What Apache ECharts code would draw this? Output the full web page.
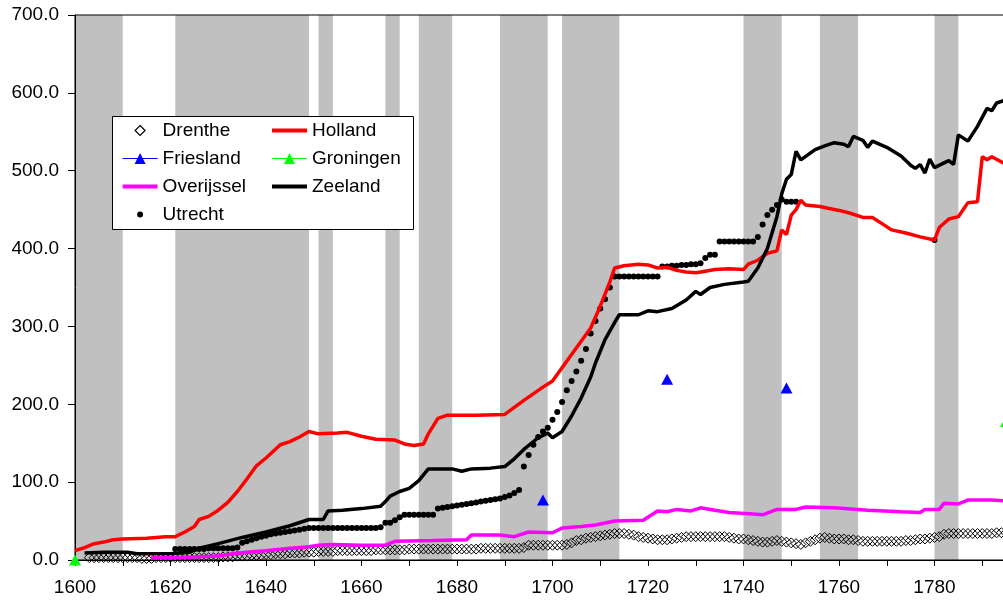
<!DOCTYPE html>
<html>
<head>
<meta charset="utf-8">
<script src="https://cdn.jsdelivr.net/npm/echarts@6/dist/echarts.min.js"></script>
<style>
  html, body { margin: 0; padding: 0; background: #fff; }
  #chart { width: 1003px; height: 600px; }
</style>
</head>
<body>
<div id="chart"></div>
<script>
// grey bands: war years [from, to]
const warPeriods = [[1600, 1610], [1621, 1649], [1651, 1654], [1665, 1668], [1672, 1679],
  [1689, 1699], [1702, 1714], [1740, 1748], [1756, 1764], [1780, 1785]];

// Drenthe, one value per year from 1603
const drentheFirstYear = 1603;
const drenthe = [
  3, 3, 3, 3, 3, 3, 3,
  3, 3, 3, 3, 2, 2, 2, 3, 3, 3,
  3, 3, 3, 3, 3, 3, 3, 3, 3, 3,
  3, 4, 4, 4, 5, 5, 5, 6, 6, 6,
  7, 7, 8, 8, 8, 9, 9, 9, 10, 10,
  10, 11, 11, 11, 11, 12, 12, 12, 12, 12,
  12, 12, 12, 13, 13, 13, 13, 13, 13, 13,
  14, 14, 14, 14, 14, 14, 14, 14, 14, 14,
  14, 14, 14, 14, 14, 15, 15, 15, 15, 15,
  15, 15, 15, 15, 16, 19, 19, 19, 19, 19,
  19, 19, 19, 20, 22, 25, 26, 28, 29, 30,
  31, 32, 33, 34, 34, 34, 33, 32, 30, 29,
  28, 27, 26, 26, 26, 27, 28, 29, 30, 30,
  30, 30, 30, 30, 30, 30, 30, 29, 28, 27,
  27, 26, 25, 24, 23, 23, 24, 25, 24, 23,
  22, 21, 20, 22, 24, 26, 28, 29, 28, 27,
  27, 27, 26, 26, 25, 24, 24, 24, 24, 24,
  24, 24, 24, 24, 25, 25, 26, 27, 27, 28,
  29, 30, 33, 34, 34, 34, 34, 34, 34, 34,
  34, 34, 34, 35, 35, 35
];

// Utrecht, one value per year from 1621, plus a late observation
const utrechtFirstYear = 1621;
const utrecht = [
  14, 14, 14, 14, 14, 14, 14, 15, 15,
  15, 15, 15, 15, 16, 22, 24, 26, 28, 30,
  31, 33, 34, 35, 36, 37, 38, 39, 40, 41,
  41, 41, 41, 41, 41, 41, 41, 41, 41, 41,
  41, 41, 41, 41, 42, 48, 48, 51, 55, 58,
  58, 58, 58, 58, 58, 58, 66, 67, 68, 69,
  70, 71, 72, 73, 74, 75, 76, 77, 78, 79,
  81, 83, 86, 90, 120, 135, 148, 158, 165, 170,
  180, 190, 203, 218, 230, 242, 256, 271, 291, 307,
  323, 335, 350, 364, 364, 364, 364, 364, 364, 364,
  364, 364, 364, 377, 377, 378, 378, 379, 379, 380,
  380, 381, 388, 392, 392, 409, 409, 409, 409, 409,
  409, 409, 409, 415, 431, 443, 450, 456, 463, 460,
  460, 460
];
const utrechtLate = [[1780, 411]];

const friesland = [[1698, 77], [1724, 232], [1749, 221]];
const groningen = [[1600, 0], [1795, 178]];

const holland = [[1600, 12], [1602, 16], [1604, 21], [1606, 23], [1608, 26], [1610, 27], [1615, 28],
  [1619, 30], [1621, 30], [1623, 36], [1625, 43], [1626, 52], [1628, 56], [1630, 64], [1632, 74],
  [1634, 88], [1636, 104], [1638, 121], [1640, 131], [1643, 148], [1645, 152], [1647, 158],
  [1649, 165], [1651, 162], [1655, 163], [1657, 164], [1660, 159], [1663, 155], [1667, 154],
  [1669, 149], [1671, 147], [1673, 149], [1674, 162], [1676, 182], [1678, 186], [1684, 186],
  [1690, 187], [1694, 205], [1698, 222], [1700, 230], [1702, 247], [1704, 264], [1706, 281],
  [1708, 298], [1710, 326], [1712, 357], [1713, 375], [1715, 378], [1718, 380], [1720, 379],
  [1722, 375], [1724, 376], [1726, 372], [1728, 370], [1730, 369], [1732, 371], [1734, 373],
  [1737, 374], [1740, 373], [1741, 380], [1743, 385], [1745, 394], [1747, 397], [1748, 424],
  [1749, 418], [1750, 443], [1751, 450], [1752, 462], [1753, 456], [1756, 454], [1760, 449],
  [1762, 446], [1765, 440], [1767, 440], [1769, 432], [1771, 424], [1774, 420], [1777, 415],
  [1780, 411], [1781, 427], [1783, 438], [1785, 441], [1787, 459], [1789, 460], [1790, 518],
  [1791, 514], [1792, 518], [1795, 508]];

const overijssel = [[1616, 3], [1620, 3], [1625, 4], [1630, 5], [1633, 8], [1636, 10], [1640, 12],
  [1645, 15], [1649, 17], [1651, 19], [1654, 20], [1660, 19], [1665, 19], [1667, 24], [1675, 25],
  [1682, 26], [1683, 32], [1689, 32], [1692, 30], [1695, 36], [1700, 35], [1702, 41], [1706, 43],
  [1709, 45], [1713, 50], [1719, 51], [1722, 63], [1724, 62], [1726, 65], [1729, 63], [1731, 67],
  [1734, 64], [1737, 61], [1742, 59], [1744, 58], [1747, 65], [1751, 65], [1753, 68], [1759, 67],
  [1766, 64], [1773, 62], [1777, 61], [1778, 65], [1781, 65], [1782, 73], [1785, 72], [1787, 77],
  [1792, 77], [1795, 76]];

const zeeland = [[1602, 9], [1606, 10], [1611, 10], [1613, 8], [1620, 8], [1624, 10], [1626, 15],
  [1630, 21], [1635, 29], [1640, 36], [1645, 44], [1649, 52], [1652, 52], [1653, 63], [1656, 64],
  [1660, 66], [1664, 69], [1665, 75], [1666, 82], [1668, 88], [1670, 92], [1672, 102], [1674, 117],
  [1679, 117], [1681, 114], [1683, 117], [1687, 118], [1690, 120], [1692, 130], [1694, 142],
  [1697, 157], [1699, 163], [1700, 157], [1702, 165], [1704, 185], [1706, 208], [1708, 235],
  [1709, 253], [1711, 283], [1713, 305], [1714, 315], [1718, 315], [1720, 320], [1722, 319],
  [1725, 323], [1728, 334], [1730, 345], [1731, 341], [1733, 350], [1736, 354], [1740, 357],
  [1741, 358], [1743, 375], [1745, 400], [1747, 441], [1748, 470], [1749, 489], [1750, 495],
  [1751, 525], [1752, 514], [1755, 527], [1757, 532], [1759, 536], [1761, 534], [1762, 531],
  [1763, 544], [1765, 539], [1766, 530], [1767, 538], [1770, 530], [1773, 519], [1775, 507],
  [1776, 503], [1777, 508], [1778, 497], [1779, 515], [1780, 504], [1782, 510], [1783, 513],
  [1784, 508], [1785, 546], [1787, 538], [1789, 557], [1791, 580], [1792, 577], [1793, 587],
  [1795, 591]];

const FONT = '"Liberation Sans", Arial, sans-serif';

// legend icons, all drawn inside a 35x12 frame so they keep their size
const frame = 'path://M0,0M35,12';
const icons = {
  diamond: frame + 'M17.5,1L22.5,6L17.5,11L12.5,6Z',
  thick: frame + 'M0,4L35,4L35,8L0,8Z',
  triLine: frame + 'M0,5.5L35,5.5L35,6.5L0,6.5ZM17.5,0.5L23,11.5L12,11.5Z',
  dot: frame + 'M14.5,6A3,3,0,1,1,20.5,6A3,3,0,1,1,14.5,6Z'
};

const yearly = (first, values) => values.map((v, i) => [first + i, v]);

const chart = echarts.init(document.getElementById('chart'));

const legendBase = {
  orient: 'vertical',
  top: 121,
  padding: 0,
  itemWidth: 35,
  itemHeight: 12,
  itemGap: 9,
  selectedMode: false,
  z: 20,
  textStyle: { fontSize: 19, color: '#000', fontFamily: FONT }
};

chart.setOption({
  animation: false,
  backgroundColor: '#fff',
  grid: {
    left: 75, top: 15, bottom: 40, right: -27,
    show: true, borderColor: '#000', borderWidth: 1, z: 3,
    outerBoundsMode: 'none'
  },
  xAxis: {
    type: 'value',
    min: 1600, max: 1800, interval: 10,
    z: 3,
    axisLine: { show: true, lineStyle: { color: '#000', width: 1 } },
    axisTick: { show: true, inside: false, length: 6, lineStyle: { color: '#000' } },
    axisLabel: {
      margin: 18, fontSize: 19, color: '#000', fontFamily: FONT,
      formatter: (v) => (v % 20 === 0 ? String(v) : '')
    },
    splitLine: { show: false }
  },
  yAxis: {
    type: 'value',
    min: 0, max: 700, interval: 100,
    z: 3,
    axisLine: { show: true, lineStyle: { color: '#000', width: 1 } },
    axisTick: { show: true, inside: false, length: 7, lineStyle: { color: '#000' } },
    axisLabel: {
      margin: 16, fontSize: 19, color: '#000', fontFamily: FONT,
      formatter: (v) => v.toFixed(1)
    },
    splitLine: { show: false }
  },
  graphic: [{
    type: 'rect', left: 112, top: 116, z: 15,
    shape: { width: 301, height: 113 },
    style: { fill: '#fff', stroke: '#000', lineWidth: 1 }
  }],
  legend: [
    Object.assign({}, legendBase, {
      left: 122,
      data: [
        { name: 'Drenthe', icon: icons.diamond, itemStyle: { color: 'rgba(0,0,0,0)', borderColor: '#000', borderWidth: 1.2, opacity: 1 } },
        { name: 'Friesland', icon: icons.triLine, itemStyle: { color: '#0000FF', borderWidth: 0, opacity: 1 } },
        { name: 'Overijssel', icon: icons.thick, itemStyle: { color: '#FF00FF', borderWidth: 0, opacity: 1 } },
        { name: 'Utrecht', icon: icons.dot, itemStyle: { color: '#000', borderWidth: 0, opacity: 1 } }
      ]
    }),
    Object.assign({}, legendBase, {
      left: 272,
      data: [
        { name: 'Holland', icon: icons.thick, itemStyle: { color: '#FF0000', borderWidth: 0, opacity: 1 } },
        { name: 'Groningen', icon: icons.triLine, itemStyle: { color: '#00FF00', borderWidth: 0, opacity: 1 } },
        { name: 'Zeeland', icon: icons.thick, itemStyle: { color: '#000', borderWidth: 0, opacity: 1 } }
      ]
    })
  ],
  series: [
    {
      name: 'wars', type: 'line', data: [], silent: true, z: 1,
      markArea: {
        silent: true,
        itemStyle: { color: '#C0C0C0', opacity: 1 },
        data: warPeriods.map(([a, b]) => [{ xAxis: a }, { xAxis: b }])
      }
    },
    {
      name: 'Drenthe', type: 'scatter', symbol: 'diamond', symbolSize: 10,
      itemStyle: { color: 'rgba(0,0,0,0)', borderColor: '#000', borderWidth: 1, opacity: 1 },
      data: yearly(drentheFirstYear, drenthe)
    },
    {
      name: 'Holland', type: 'line', showSymbol: false, symbol: 'none',
      lineStyle: { color: '#FF0000', width: 3.5 }, itemStyle: { color: '#FF0000' },
      data: holland
    },
    {
      name: 'Friesland', type: 'scatter', symbol: 'triangle', symbolSize: [12, 11],
      itemStyle: { color: '#0000FF', opacity: 1 },
      data: friesland
    },
    {
      // only markers, no connecting line
      name: 'Groningen', type: 'line', symbol: 'triangle', symbolSize: [12, 11],
      showSymbol: true, showAllSymbol: true, clip: false, z: 6,
      lineStyle: { width: 0, opacity: 0 },
      itemStyle: { color: '#00FF00', borderWidth: 0, opacity: 1 },
      data: groningen
    },
    {
      name: 'Overijssel', type: 'line', showSymbol: false, symbol: 'none',
      lineStyle: { color: '#FF00FF', width: 3.5 }, itemStyle: { color: '#FF00FF' },
      data: overijssel
    },
    {
      name: 'Zeeland', type: 'line', showSymbol: false, symbol: 'none',
      lineStyle: { color: '#000', width: 3.5 }, itemStyle: { color: '#000' },
      data: zeeland
    },
    {
      name: 'Utrecht', type: 'scatter', symbol: 'circle', symbolSize: 6,
      itemStyle: { color: '#000', opacity: 1 },
      data: yearly(utrechtFirstYear, utrecht).concat(utrechtLate)
    }
  ]
});
</script>
</body>
</html>
